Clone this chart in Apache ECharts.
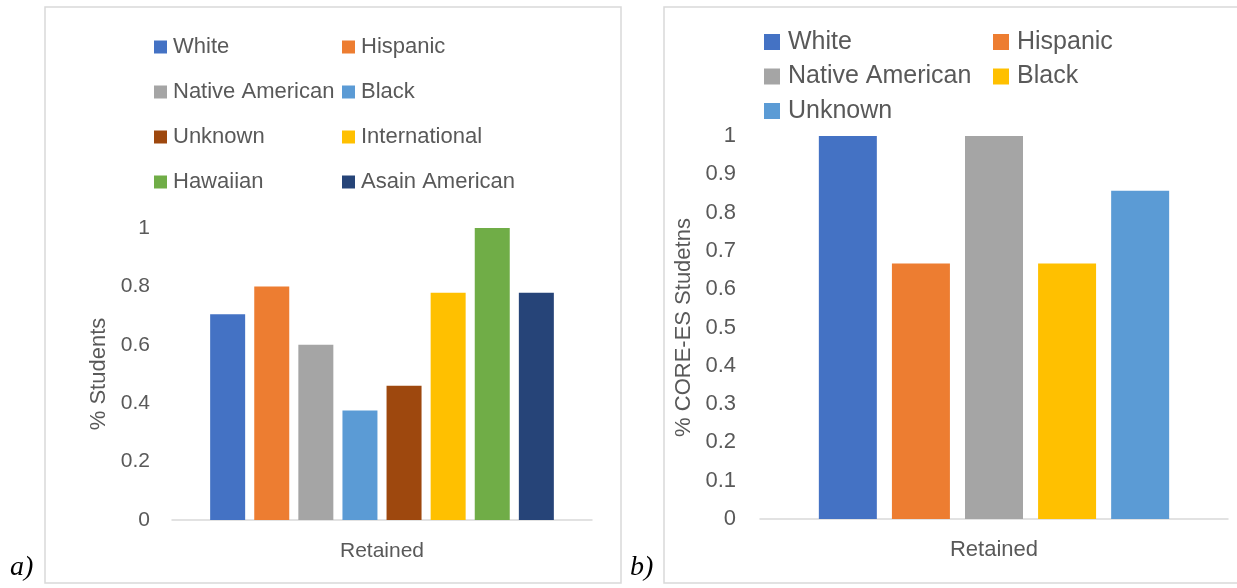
<!DOCTYPE html>
<html>
<head>
<meta charset="utf-8">
<script src="https://cdn.jsdelivr.net/npm/echarts@6/dist/echarts.min.js"></script>
<style>
html,body{margin:0;padding:0;background:#fff;}
#a{position:absolute;left:0;top:0;width:640px;height:588px;}
#b{position:absolute;left:620px;top:0;width:617px;height:588px;}
</style>
</head>
<body>
<div id="a"></div>
<div id="b"></div>
<script>
// ---- data ----
const categories = ['Retained'];
const groupsA = ['White', 'Hispanic', 'Native American', 'Black', 'Unknown', 'International', 'Hawaiian', 'Asain American'];
const valuesA = [0.705, 0.8, 0.6, 0.375, 0.46, 0.778, 1.0, 0.778];
const colorsA = ['#4472C4', '#ED7D31', '#A5A5A5', '#5B9BD5', '#9E480E', '#FFC000', '#70AD47', '#264478'];
const groupsB = ['White', 'Hispanic', 'Native American', 'Black', 'Unknown'];
const valuesB = [1.0, 0.667, 1.0, 0.667, 0.857];
const colorsB = ['#4472C4', '#ED7D31', '#A5A5A5', '#FFC000', '#5B9BD5'];
const yTicksA = [0, 0.2, 0.4, 0.6, 0.8, 1];
const yTicksB = [0, 0.1, 0.2, 0.3, 0.4, 0.5, 0.6, 0.7, 0.8, 0.9, 1];
const yNameA = '% Students';
const yNameB = '% CORE-ES Studetns';

const FONT = 'Liberation Sans';
const TXT = '#595959';

function fmt(v){ return String(Math.round(v*10)/10); }

function build(o){
  const series = o.groups.map((g,i)=>({
    name: g, type: 'bar', data: [o.values[i]],
    barWidth: o.barWidth, barGap: '26%',
    itemStyle: {color: o.colors[i]}, animation: false
  }));
  const col1 = o.groups.filter((g,i)=>i%2===0);
  const col2 = o.groups.filter((g,i)=>i%2===1);
  const legendBase = {
    orient: 'vertical', top: o.legendTop, itemWidth: o.mk, itemHeight: o.mk, padding: 0,
    itemGap: o.legendGap, icon: 'rect', selectedMode: false,
    textStyle: {color: TXT, fontFamily: FONT, fontSize: o.legendFont, lineHeight: o.legendLH, padding:[0,0,0,o.textPad]}
  };
  return {
    animation: false,
    textStyle: {fontFamily: FONT},
    grid: {left: o.gl, top: o.gt, width: o.gw, height: o.gh},
    legend: [
      Object.assign({}, legendBase, {left: o.lx1, data: col1}),
      Object.assign({}, legendBase, {left: o.lx2, data: col2})
    ],
    xAxis: {
      type: 'category', data: categories,
      axisLine: {lineStyle: {color: '#d9d9d9', width: 1.5}},
      axisTick: {show: false},
      axisLabel: {color: TXT, fontFamily: FONT, fontSize: o.xFont, margin: o.xMargin}
    },
    yAxis: {
      type: 'value', min: 0, max: 1, interval: o.ticks[1]-o.ticks[0],
      axisLine: {show: false}, axisTick: {show: false}, splitLine: {show: false},
      axisLabel: {color: TXT, fontFamily: FONT, fontSize: o.yFont, margin: o.yMargin, formatter: fmt},
      name: o.yName, nameLocation: 'middle', nameGap: o.nameGap,
      nameTextStyle: {color: TXT, fontFamily: FONT, fontSize: o.nameFont}
    },
    graphic: [
      {type: 'rect', shape: o.border, style: {fill: 'none', stroke: '#d9d9d9', lineWidth: 1.5}, silent: true},
      {type: 'text', left: o.labX, top: 554, style: {text: o.lab, font: 'italic 28px "Liberation Serif"', fill: '#000'}}
    ],
    series: series
  };
}

const chartA = echarts.init(document.getElementById('a'), null, {renderer: 'canvas'});
chartA.setOption(build({
  groups: groupsA, values: valuesA, colors: colorsA, ticks: yTicksA, yName: yNameA,
  barWidth: 35, gl: 172, gt: 228, gw: 420, gh: 292,
  legendTop: 35, lx1: 154, lx2: 342, mk: 13, legendGap: 21, legendFont: 22, legendLH: 24, textPad: 1,
  xFont: 21, xMargin: 21, yFont: 21, yMargin: 22, nameGap: 62, nameFont: 22,
  border: {x: 45, y: 7, width: 576, height: 576}, lab: 'a)', labX: 10
}));

const chartB = echarts.init(document.getElementById('b'), null, {renderer: 'canvas'});
chartB.setOption(build({
  groups: groupsB, values: valuesB, colors: colorsB, ticks: yTicksB, yName: yNameB,
  barWidth: 58, gl: 140, gt: 136, gw: 468, gh: 383,
  legendTop: 29, lx1: 144, lx2: 373, mk: 16, legendGap: 8.5, legendFont: 25, legendLH: 26, textPad: 3,
  xFont: 22, xMargin: 20, yFont: 22, yMargin: 24, nameGap: 57, nameFont: 22,
  border: {x: 44, y: 7, width: 577, height: 576}, lab: 'b)', labX: 10
}));
</script>
</body>
</html>
